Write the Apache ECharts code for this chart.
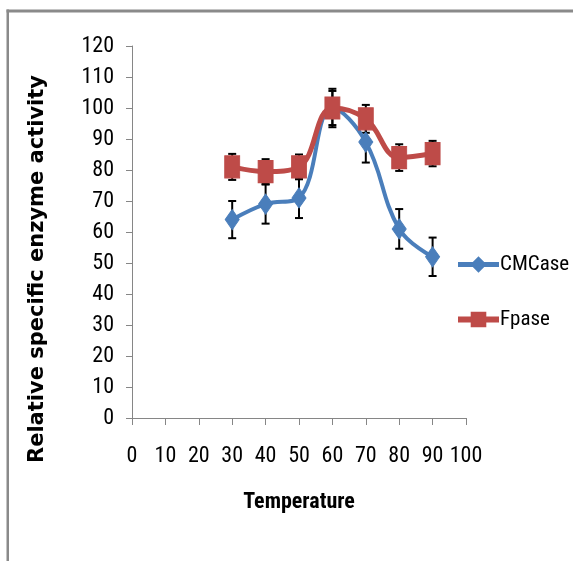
<!DOCTYPE html>
<html>
<head>
<meta charset="utf-8">
<script src="https://cdn.jsdelivr.net/npm/echarts@6/dist/echarts.min.js"></script>
<style>
html,body{margin:0;padding:0;background:#fff;}
#chart{width:573px;height:561px;}
</style>
</head>
<body>
<div id="chart"></div>
<script>
var temperatures = [30, 40, 50, 60, 70, 80, 90];
var cmcase = [64, 69, 71, 100, 89, 61, 52];
var cmcaseErr = [6, 6.3, 6.5, 6.2, 6.6, 6.4, 6.2];
var fpase = [81, 79.5, 81, 100, 96.5, 84, 85.3];
var fpaseErr = [4.2, 4, 4, 5.5, 4.5, 4.3, 4.1];
var xTicks = [0, 10, 20, 30, 40, 50, 60, 70, 80, 90, 100];
var yTicks = [0, 10, 20, 30, 40, 50, 60, 70, 80, 90, 100, 110, 120];

var NARROW = '"Roboto Condensed", "DejaVu Sans Condensed", sans-serif';

function pairs(xs, ys) { return xs.map(function (x, i) { return [x, ys[i]]; }); }
function errData(xs, ys, es) { return xs.map(function (x, i) { return [x, ys[i] - es[i], ys[i] + es[i]]; }); }

function errRender(params, api) {
  var x = api.value(0);
  var lo = api.coord([x, api.value(1)]);
  var hi = api.coord([x, api.value(2)]);
  var hw = 4;
  var st = { stroke: '#000', lineWidth: 2 };
  return {
    type: 'group',
    children: [
      { type: 'line', shape: { x1: lo[0], y1: lo[1], x2: hi[0], y2: hi[1] }, style: st },
      { type: 'line', shape: { x1: lo[0] - hw, y1: lo[1], x2: lo[0] + hw, y2: lo[1] }, style: st },
      { type: 'line', shape: { x1: hi[0] - hw, y1: hi[1], x2: hi[0] + hw, y2: hi[1] }, style: st }
    ]
  };
}

var chart = echarts.init(document.getElementById('chart'), null, { renderer: 'canvas' });
chart.setOption({
  animation: false,
  backgroundColor: '#fff',
  grid: { left: 132, right: 107, top: 46, bottom: 143, containLabel: false },
  xAxis: {
    type: 'value', min: xTicks[0], max: xTicks[xTicks.length - 1], interval: 10,
    name: 'Temperature', nameLocation: 'middle', nameGap: 73,
    nameTextStyle: { fontFamily: NARROW, fontWeight: 'bold', fontSize: 22, color: '#000' },
    axisLine: { show: true, lineStyle: { color: '#868686', width: 1 } },
    axisTick: { show: true, inside: false, length: 7, lineStyle: { color: '#868686' } },
    axisLabel: { fontFamily: NARROW, fontSize: 22, color: '#000', margin: 27 },
    splitLine: { show: false }
  },
  yAxis: {
    type: 'value', min: yTicks[0], max: yTicks[yTicks.length - 1], interval: 10,
    name: 'Relative specific enzyme activity', nameLocation: 'middle', nameGap: 84, nameRotate: 90,
    nameTextStyle: { fontFamily: '"DejaVu Sans", Verdana, sans-serif', fontWeight: 'bold', fontSize: 21, color: '#000', padding: [0, 74, 0, 0] },
    axisLine: { show: true, lineStyle: { color: '#868686', width: 1 } },
    axisTick: { show: true, inside: false, length: 6, lineStyle: { color: '#868686' } },
    axisLabel: { fontFamily: NARROW, fontSize: 22, color: '#000', margin: 18 },
    splitLine: { show: false }
  },
  legend: {
    orient: 'vertical', left: 450, top: 249, itemWidth: 41, itemHeight: 17, itemGap: 34,
    textStyle: { fontFamily: NARROW, fontSize: 21, color: '#000', padding: [0, 0, 0, -4] },
    data: [
      { name: 'CMCase', lineStyle: { width: 5 } },
      { name: 'Fpase', lineStyle: { width: 6 } }
    ]
  },
  graphic: [
    { type: 'rect', shape: { x: 6.5, y: 9.5, width: 573, height: 3 }, style: { fill: '#8a8a8a' }, silent: true },
    { type: 'rect', shape: { x: 6.5, y: 9.5, width: 2.5, height: 560 }, style: { fill: '#8a8a8a' }, silent: true }
  ],
  series: [
    {
      name: 'CMCase err', type: 'custom', renderItem: errRender, z: 1,
      data: errData(temperatures, cmcase, cmcaseErr), encode: { x: 0, y: [1, 2] }, silent: true
    },
    {
      name: 'Fpase err', type: 'custom', renderItem: errRender, z: 1,
      data: errData(temperatures, fpase, fpaseErr), encode: { x: 0, y: [1, 2] }, silent: true
    },
    {
      name: 'CMCase', type: 'line', smooth: 0.4, z: 3,
      data: pairs(temperatures, cmcase),
      symbol: 'diamond', symbolSize: [14, 20],
      lineStyle: { color: '#4A7EBB', width: 4 },
      itemStyle: { color: '#4A7EBB', borderColor: '#4A7EBB', borderWidth: 1 }
    },
    {
      name: 'Fpase', type: 'line', smooth: 0.4, z: 4,
      data: pairs(temperatures, fpase),
      symbol: 'rect', symbolSize: [15, 22],
      lineStyle: { color: '#BE4B48', width: 5 },
      itemStyle: { color: '#BE4B48', borderColor: '#BE4B48', borderWidth: 1 }
    }
  ]
});
</script>
</body>
</html>
